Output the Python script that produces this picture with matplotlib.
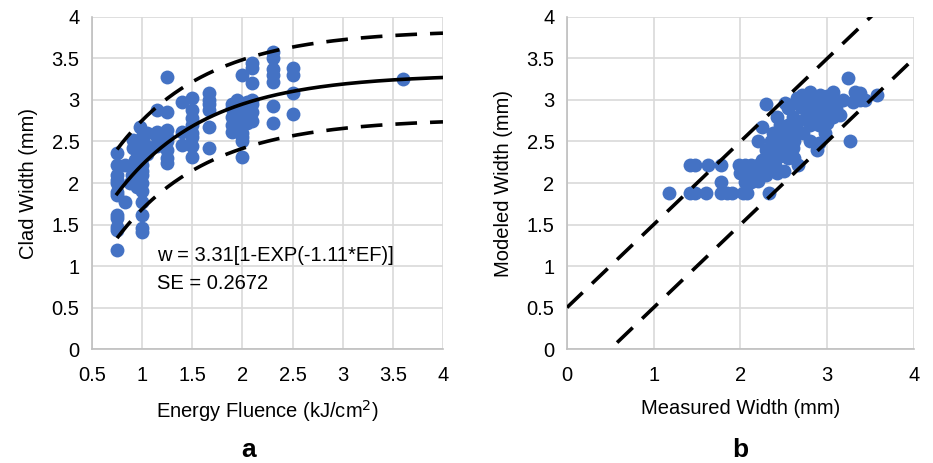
import numpy as np
import matplotlib.pyplot as plt

plt.rcParams['font.family'] = ['Liberation Sans', 'DejaVu Sans']

# (a) clad width against energy fluence
fluence = [0.75, 0.75, 0.75, 0.75, 0.75, 0.75, 0.75, 0.75, 0.75, 0.75, 0.75, 0.75,
           0.83, 0.83, 0.88, 0.9, 0.91, 0.91, 0.93, 0.95, 0.95, 0.95, 0.98,
           1.0, 1.0, 1.0, 1.0, 1.0, 1.0, 1.0, 1.0, 1.0, 1.0, 1.0, 1.0, 1.0, 1.0,
           1.05, 1.05, 1.05, 1.15, 1.15, 1.15, 1.15,
           1.25, 1.25, 1.25, 1.25, 1.25, 1.25, 1.25, 1.25,
           1.4, 1.4, 1.4, 1.5, 1.5, 1.5, 1.5, 1.5, 1.5, 1.5, 1.5,
           1.67, 1.67, 1.67, 1.67, 1.67, 1.67,
           1.9, 1.9, 1.9, 1.9, 1.9, 1.92, 1.95, 1.95,
           2.0, 2.0, 2.0, 2.0, 2.0, 2.0, 2.0, 2.0, 2.0, 2.0, 2.05, 2.05, 2.05,
           2.1, 2.1, 2.1, 2.1, 2.1, 2.1, 2.1,
           2.3, 2.3, 2.3, 2.3, 2.3, 2.3, 2.3,
           2.5, 2.5, 2.5, 2.5, 3.6]
clad_width = [2.36, 2.22, 2.1, 2.04, 1.89, 1.86, 1.61, 1.58, 1.47, 1.43, 1.19, 2.0,
              1.77, 2.22, 2.0, 2.1, 2.52, 2.42, 2.28, 2.3, 2.2, 1.95, 2.67,
              2.5, 2.45, 2.4, 2.3, 2.22, 2.15, 2.1, 2.0, 1.9, 1.77, 1.61, 1.46, 1.41, 2.55,
              2.6, 2.45, 2.35, 2.88, 2.55, 2.45, 2.62,
              3.28, 2.86, 2.64, 2.55, 2.5, 2.4, 2.24, 2.3,
              2.98, 2.61, 2.46, 3.02, 2.88, 2.78, 2.7, 2.55, 2.45, 2.31, 2.6,
              3.08, 3.0, 2.95, 2.88, 2.67, 2.42,
              2.95, 2.9, 2.8, 2.7, 2.62, 2.85, 3.0, 2.75,
              3.3, 2.95, 2.9, 2.85, 2.8, 2.7, 2.6, 2.55, 2.5, 2.31, 2.98, 2.9, 2.72,
              3.44, 3.38, 3.2, 3.0, 2.95, 2.85, 2.75,
              3.58, 3.5, 3.37, 3.3, 3.22, 2.93, 2.72,
              3.38, 3.3, 3.08, 2.83, 3.25]

# fitted model w = a[1-exp(-b*EF)] with +/- 2 SE band
fit_a = 3.31
fit_b = 1.11
fit_se = 0.2672

# (b) modeled vs measured width
measured = [1.18, 1.42, 1.48, 1.60, 1.78, 1.84, 1.90, 2.03, 2.08, 2.33,
            1.77, 2.05, 2.12, 2.20,
            2.00, 2.10, 2.18, 2.30, 2.42, 2.50,
            1.42, 1.48, 1.62, 1.78, 1.98, 2.05, 2.12, 2.20, 2.28, 2.35, 2.40, 2.66,
            2.25, 2.35, 2.45, 2.55, 2.62,
            2.30, 2.40, 2.50, 2.60, 2.88,
            2.20, 2.35, 2.45, 2.55, 2.62, 2.80, 2.90, 3.26,
            2.38, 2.50, 2.60, 2.72, 2.97,
            2.25, 2.45, 2.55, 2.65, 2.80, 2.90, 3.00,
            2.42, 2.60, 2.75, 2.85, 2.95, 3.07, 3.15,
            2.55, 2.70, 2.80, 2.90, 3.00, 3.10,
            2.30, 2.51, 2.57, 2.75, 2.85, 2.95, 3.05, 3.18, 3.30, 3.38, 3.44,
            2.65, 2.71, 2.80, 2.92, 3.00, 3.07, 3.32, 3.38, 3.57, 3.24]
modeled = [1.88, 1.88, 1.88, 1.88, 1.88, 1.88, 1.88, 1.88, 1.88, 1.88,
           2.01, 2.01, 2.01, 2.03,
           2.12, 2.10, 2.12, 2.10, 2.12, 2.14,
           2.22, 2.22, 2.22, 2.22, 2.22, 2.22, 2.22, 2.22, 2.22, 2.20, 2.22, 2.22,
           2.28, 2.30, 2.32, 2.30, 2.30,
           2.40, 2.42, 2.40, 2.42, 2.40,
           2.50, 2.50, 2.52, 2.50, 2.50, 2.50, 2.48, 2.50,
           2.60, 2.62, 2.60, 2.60, 2.60,
           2.68, 2.70, 2.70, 2.72, 2.70, 2.70, 2.72,
           2.80, 2.80, 2.80, 2.80, 2.80, 2.80, 2.82,
           2.90, 2.92, 2.90, 2.90, 2.88, 2.90,
           2.95, 2.96, 2.94, 3.00, 2.98, 3.00, 2.98, 3.00, 2.98, 3.00, 3.00,
           3.02, 3.06, 3.10, 3.06, 3.05, 3.10, 3.10, 3.08, 3.06, 3.26]

blue = '#4472C4'
grid_col = '#D9D9D9'
fs = 14.5

fig = plt.figure(figsize=(9.33, 4.63), dpi=100)
ax1 = fig.add_axes([0.0986, 0.2462, 0.3762, 0.7171])
ax2 = fig.add_axes([0.6077, 0.2462, 0.3719, 0.7171])

for ax in (ax1, ax2):
    ax.set_ylim(0, 4)
    ax.set_yticks(np.arange(0, 4.01, 0.5))
    ax.set_yticklabels(['0', '0.5', '1', '1.5', '2', '2.5', '3', '3.5', '4'])
    ax.grid(True, color=grid_col, linewidth=1.2)
    ax.set_axisbelow(True)
    for s in ('top', 'right'):
        ax.spines[s].set_visible(False)
    for s in ('left', 'bottom'):
        ax.spines[s].set_color('#BFBFBF')
        ax.spines[s].set_linewidth(1.2)
    ax.tick_params(axis='x', length=0, labelsize=fs, pad=12, colors='black')
    ax.tick_params(axis='y', length=0, labelsize=fs, pad=9, colors='black')

# panel a
ax1.set_xlim(0.5, 4)
ax1.set_xticks(np.arange(0.5, 4.01, 0.5))
ax1.set_xticklabels(['0.5', '1', '1.5', '2', '2.5', '3', '3.5', '4'])
ax1.scatter(fluence, clad_width, s=100, color=blue, zorder=2, linewidths=0)
ef = np.linspace(0.75, 4, 200)
w = fit_a * (1 - np.exp(-fit_b * ef))
ax1.plot(ef, w, color='black', linewidth=2.6, zorder=3)
ax1.plot(ef, w + 2 * fit_se, color='black', linewidth=2.6, dashes=(6, 3.6), zorder=3)
ax1.plot(ef, w - 2 * fit_se, color='black', linewidth=2.6, dashes=(6, 3.6), zorder=3)
ax1.text(1.15, 1.13, 'w = 3.31[1-EXP(-1.11*EF)]', fontsize=fs, va='center')
ax1.text(1.15, 0.79, 'SE = 0.2672', fontsize=fs, va='center')
ax1.set_xlabel('Energy Fluence (kJ/cm$^2$)', fontsize=fs, labelpad=10)
ax1.set_ylabel('Clad Width (mm)', fontsize=fs, labelpad=10)

# panel b
ax2.set_xlim(0, 4)
ax2.set_xticks([0, 1, 2, 3, 4])
ax2.scatter(measured, modeled, s=100, color=blue, zorder=2, linewidths=0)
xs = np.array([0, 4])
ax2.plot(xs, xs + 0.5, color='black', linewidth=2.6, dashes=(6, 3.6), zorder=3)
ax2.plot(xs, xs - 0.5, color='black', linewidth=2.6, dashes=(6, 3.6), zorder=3)
ax2.set_xlabel('Measured Width (mm)', fontsize=fs, labelpad=10)
ax2.set_ylabel('Modeled Width (mm)', fontsize=fs, labelpad=10)

fig.text(0.2667, 0.012, 'a', fontsize=19, fontweight='bold', ha='center')
fig.text(0.7937, 0.012, 'b', fontsize=19, fontweight='bold', ha='center')

fig.savefig('out.png', dpi=100)
